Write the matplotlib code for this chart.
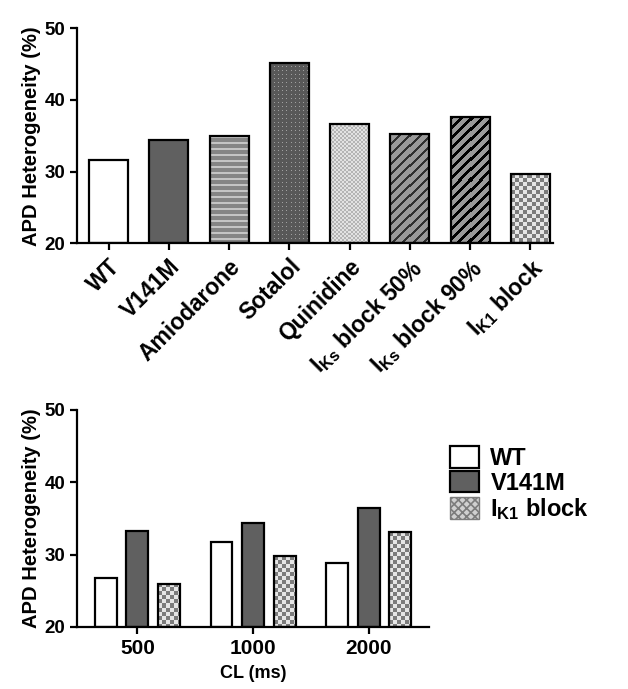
import numpy as np
import matplotlib
matplotlib.use('Agg')
import matplotlib.pyplot as plt
from matplotlib.patches import Patch
from matplotlib.colors import to_rgb

plt.rcParams['font.family'] = ['Liberation Sans', 'DejaVu Sans']
plt.rcParams['font.weight'] = 'bold'
plt.rcParams['mathtext.fontset'] = 'custom'
plt.rcParams['mathtext.rm'] = 'Liberation Sans:bold'
plt.rcParams['mathtext.it'] = 'Liberation Sans:bold'
plt.rcParams['mathtext.bf'] = 'Liberation Sans:bold'
plt.rcParams['hatch.linewidth'] = 1.2

# data panel atas
kondisi = ['WT', 'V141M', 'Amiodarone', 'Sotalol', 'Quinidine',
           r'I$\mathrm{_{Ks}}$ block 50%', r'I$\mathrm{_{Ks}}$ block 90%', r'I$\mathrm{_{K1}}$ block']
heterogenitas = [31.6, 34.4, 34.9, 45.2, 36.7, 35.3, 37.6, 29.6]

# data panel bawah
cl_labels = ['500', '1000', '2000']
wt_cl = [26.8, 31.7, 28.9]
v141m_cl = [33.2, 34.4, 36.4]
ik1_cl = [26.0, 29.8, 33.1]

# pola isi tiap batang (nama pola dipakai di fungsi tekstur)
pola = ['polos_putih', 'polos_gelap', 'garis', 'titik', 'kotak_halus',
        'diagonal_tipis', 'diagonal_tebal', 'kotak']


def tekstur(nama, nr, nc):
    i, j = np.mgrid[0:nr, 0:nc]
    def dua(mask, a, b):
        a, b = np.array(to_rgb(a)), np.array(to_rgb(b))
        return np.where(mask[..., None], a, b)
    if nama == 'polos_putih':
        return dua(i < 0, 'white', 'white')
    if nama == 'polos_gelap':
        return dua(i < 0, '#606060', '#606060')
    if nama == 'garis':
        return dua((i % 6) < 2, '#c4c4c4', '#858585')
    if nama == 'titik':
        return dua(((i % 4) < 1) & ((j % 4) < 1), '#a0a0a0', '#585858')
    if nama == 'kotak_halus':
        return dua(((i // 2) + (j // 2)) % 2 == 0, '#b4b4b4', '#e2e2e2')
    if nama == 'diagonal_tipis':
        return dua(((i + j) % 10) < 3, '#303030', '#9a9a9a')
    if nama == 'diagonal_tebal':
        return dua(((i + j) % 10) < 4, '#000000', '#9a9a9a')
    if nama == 'kotak':
        return dua(((i // 4) + (j // 4)) % 2 == 0, '#7c7c7c', '#e6e6e6')


def gambar_batang(ax, x, h, w, nama, lw=1.6):
    for xi, hi in zip(np.atleast_1d(x), np.atleast_1d(h)):
        b = ax.bar(xi, hi - 20, w, bottom=20, facecolor='none',
                   edgecolor='black', linewidth=lw, zorder=3)[0]
        # ukuran batang dalam piksel
        (px0, py0), (px1, py1) = ax.transData.transform([(xi - w / 2, 20), (xi + w / 2, hi)])
        nc = max(int(round(px1 - px0)), 1)
        nr = max(int(round(py1 - py0)), 1)
        img = ax.imshow(tekstur(nama, nr, nc), extent=[xi - w / 2, xi + w / 2, 20, hi],
                        interpolation='nearest', aspect='auto', zorder=2)
        img.set_clip_path(b)


def rapikan(ax):
    for s in ['top', 'right']:
        ax.spines[s].set_visible(False)
    for s in ['left', 'bottom']:
        ax.spines[s].set_linewidth(1.6)
    ax.tick_params(width=1.6, length=5, labelsize=13.5)
    ax.set_ylim(20, 50)
    ax.set_yticks([20, 30, 40, 50])
    ax.set_ylabel('APD Heterogeneity (%)', fontsize=14.5, fontweight='bold', labelpad=3)


fig = plt.figure(figsize=(6.28, 6.89), dpi=100)

# panel atas
ax1 = fig.add_axes([0.123, 0.647, 0.758, 0.312])
x = np.arange(len(kondisi))
ax1.set_xlim(-0.52, 7.38)
rapikan(ax1)
for i in range(len(kondisi)):
    gambar_batang(ax1, x[i], heterogenitas[i], 0.65, pola[i])
ax1.set_xlim(-0.52, 7.38)
ax1.set_ylim(20, 50)
ax1.set_xticks(x)
ax1.set_xticklabels(kondisi, rotation=45, ha='right', rotation_mode='anchor',
                    fontsize=16.5, fontweight='bold')

# panel bawah
ax2 = fig.add_axes([0.123, 0.090, 0.560, 0.315])
xg = np.arange(len(cl_labels))
off = 0.273
lebar = 0.19
ax2.set_xlim(-0.52, 2.52)
rapikan(ax2)
gambar_batang(ax2, xg - off, wt_cl, lebar, 'polos_putih')
gambar_batang(ax2, xg, v141m_cl, lebar, 'polos_gelap')
gambar_batang(ax2, xg + off, ik1_cl, lebar, 'kotak')
ax2.set_xlim(-0.52, 2.52)
ax2.set_ylim(20, 50)
ax2.set_xticks(xg)
ax2.set_xticklabels(cl_labels, fontsize=15, fontweight='bold')
ax2.tick_params(axis='x', labelsize=15, pad=4)
ax2.set_xlabel('CL (ms)', fontsize=13, fontweight='bold', labelpad=5)

handles = [Patch(facecolor='white', edgecolor='black', linewidth=1.6),
           Patch(facecolor='#606060', edgecolor='black', linewidth=1.6),
           Patch(facecolor='#d0d0d0', edgecolor='#7c7c7c', hatch='xxxx', linewidth=1.0)]
leg = fig.legend(handles, ['WT', 'V141M', r'I$\mathrm{_{K1}}$ block'],
                 loc='upper left', bbox_to_anchor=(0.717, 0.352), frameon=False,
                 prop={'size': 17, 'weight': 'bold'}, handlelength=1.2,
                 handleheight=1.0, handletextpad=0.5, labelspacing=0.05,
                 borderaxespad=0, borderpad=0)

fig.savefig('out.png', dpi=100)
